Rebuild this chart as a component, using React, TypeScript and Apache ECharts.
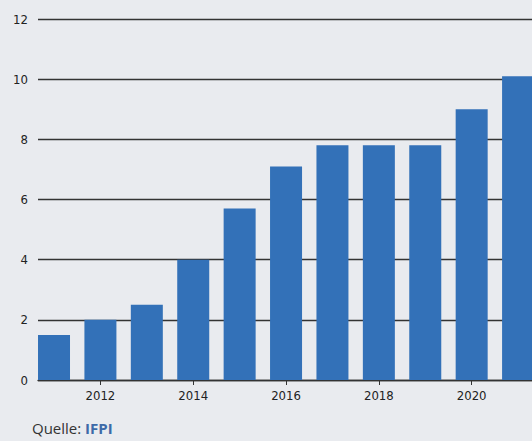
import React, { useEffect, useRef } from "react";
import * as echarts from "echarts";

const years = [2011, 2012, 2013, 2014, 2015, 2016, 2017, 2018, 2019, 2020, 2021];
const values = [1.5, 2.0, 2.5, 4.0, 5.7, 7.1, 7.8, 7.8, 7.8, 9.0, 10.1];
const xTickYears = [2012, 2014, 2016, 2018, 2020];
const yTicks = { min: 0, max: 12, interval: 2 };
const sourceLabel = "Quelle: ";
const sourceName = "IFPI";

const FONT = "'Liberation Sans Narrow', 'DejaVu Sans Condensed', 'Open Sans', sans-serif";

export default function App() {
  const ref = useRef<HTMLDivElement>(null);
  useEffect(() => {
    if (!ref.current) return;
    const chart = echarts.init(ref.current, undefined, { renderer: "svg" });
    chart.setOption({
      animation: false,
      backgroundColor: "#e9ebef",
      grid: { left: 38, right: 0, top: 19, bottom: 61, containLabel: false },
      xAxis: {
        type: "value",
        min: 2010.655,
        max: 2021.3,
        splitLine: { show: false },
        axisLine: { show: true, lineStyle: { color: "#333", width: 1.3 } },
        axisTick: { show: true, length: 5, customValues: xTickYears, lineStyle: { color: "#333" } },
        axisLabel: {
          customValues: xTickYears,
          color: "#222",
          fontSize: 13,
          fontFamily: FONT,
          margin: 9,
          formatter: (v: number) => String(Math.round(v)),
        },
      },
      yAxis: {
        type: "value",
        min: yTicks.min,
        max: yTicks.max,
        interval: yTicks.interval,
        axisLine: { show: false },
        axisTick: { show: false },
        axisLabel: { color: "#222", fontSize: 13, fontFamily: FONT, margin: 10 },
        splitLine: { show: true, lineStyle: { color: "#333", width: 1.3 } },
      },
      series: [
        {
          type: "bar",
          data: years.map((y, i) => [y, values[i]]),
          barWidth: 32,
          itemStyle: { color: "#3371b8" },
          z: 3,
        },
      ],
      graphic: [
        {
          type: "text",
          left: 32,
          top: 420,
          style: {
            text: `{a|${sourceLabel}}{b|${sourceName}}`,
            rich: {
              a: { fontSize: 15, fill: "#333", fontFamily: "'Open Sans', sans-serif" },
              b: { fontSize: 15, fill: "#3d6aa8", fontWeight: "bold", fontFamily: "'Open Sans', sans-serif" },
            },
          },
        },
      ],
    });
    return () => chart.dispose();
  }, []);
  return <div ref={ref} style={{ position: "fixed", left: 0, top: 0, width: 532, height: 441 }} />;
}
